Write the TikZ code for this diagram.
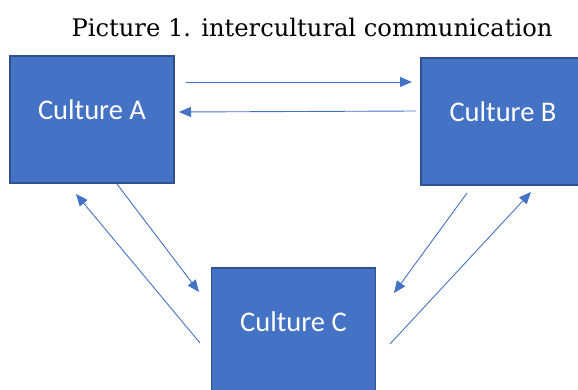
\documentclass[tikz,border=0pt]{standalone}
\usepackage{fontspec}
\setmainfont{DejaVu Serif}
\newfontfamily\boxfont{Carlito}
\usepackage{tikz}
\usetikzlibrary{arrows.meta}
\definecolor{cultfill}{HTML}{4472C4}
\definecolor{cultdraw}{HTML}{2F528F}

\begin{document}
\begin{tikzpicture}[x=1pt,y=-1pt]
\tikzstyle{culture} = [rectangle,draw=cultdraw,fill=cultfill,line width=1.5pt,minimum width=164pt,minimum height=127pt,inner sep=0pt];
\tikzstyle{cname} = [text=white,font=\boxfont\fontsize{28.5}{30}\selectfont,inner sep=0pt];
\tikzstyle{flow} = [draw=cultfill,line width=0.9pt,-{Triangle[length=12pt,width=10pt]}];
\useasboundingbox (0,0) rectangle (578,390);
\clip (0,0) rectangle (578,390);

\node[font=\fontsize{24.2}{26}\selectfont,anchor=base] (title) at (312,37) {Picture 1. intercultural communication};

\node[culture] (cultA) at (92,119.5) {};
\node[culture] (cultB) at (503,121.5) {};
\node[culture] (cultC) at (293.5,331.5) {};
\node[cname] (txtA) at ([yshift=10pt]cultA.center) {Culture A};
\node[cname] (txtB) at ([yshift=10pt]cultB.center) {Culture B};
\node[cname] (txtC) at ([yshift=10pt]cultC.center) {Culture C};

%A <-> B
\coordinate (ab1) at (186,82);
\coordinate (ab2) at (412,82);
\coordinate (ba1) at (416,111);
\coordinate (ba2) at (179,112);
\draw[flow] (ab1) -- (ab2);
\draw[flow] (ba1) -- (ba2);

%A <-> C
\coordinate (ac1) at (117,184);
\coordinate (ac2) at (199,292);
\coordinate (ca1) at (200,343);
\coordinate (ca2) at (76,194);
\draw[flow] (ac1) -- (ac2);
\draw[flow] (ca1) -- (ca2);

%B <-> C
\coordinate (bc1) at (467,193);
\coordinate (bc2) at (394,293);
\coordinate (cb1) at (390,344);
\coordinate (cb2) at (531,192);
\draw[flow] (bc1) -- (bc2);
\draw[flow] (cb1) -- (cb2);

\end{tikzpicture}
\end{document}
